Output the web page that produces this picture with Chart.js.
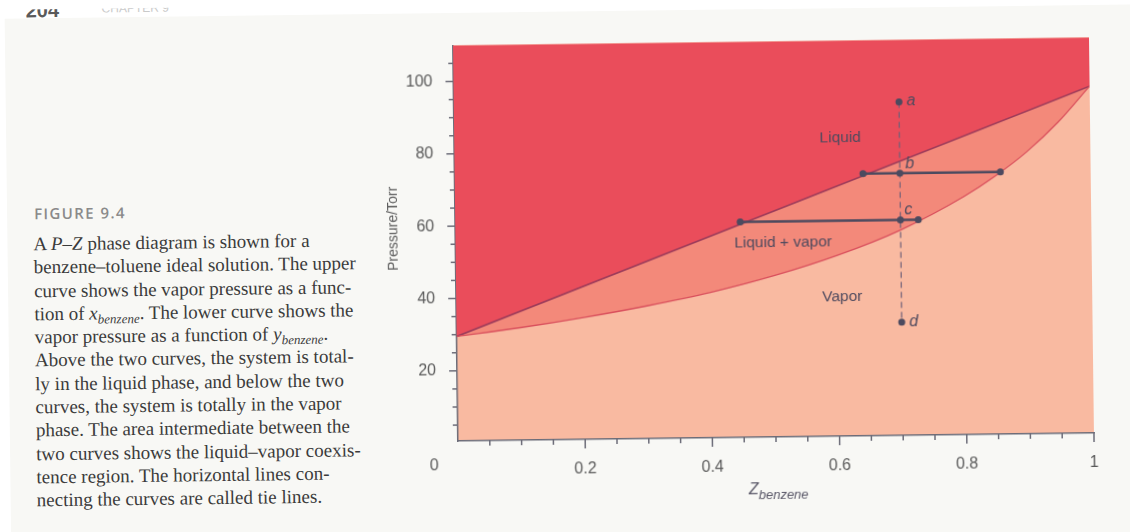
<!DOCTYPE html>
<html>
<head>
<meta charset="utf-8">
<script src="https://cdn.jsdelivr.net/npm/chart.js@4.4.1/dist/chart.umd.min.js"></script>
<style>
  html, body { margin: 0; padding: 0; width: 1130px; height: 532px; overflow: hidden; background: #ffffff; }
  #page { position: absolute; left: 0; top: 0; width: 1130px; height: 532px;
          transform: rotate(-0.72deg); transform-origin: 458px 441px; }
  #sheet { position: absolute; left: 10px; top: 13px; width: 1160px; height: 560px; background: #f8f8f5; }
  #runhead { position: absolute; left: 31px; top: 4px; width: 200px; height: 9px; overflow: hidden; }
  #runhead span { position: absolute; font-family: "Liberation Sans", Arial, sans-serif; white-space: nowrap; }
  #figlabel { position: absolute; left: 37px; top: 197px; font-family: "Open Sans", "Liberation Sans", sans-serif;
              font-weight: 600; font-size: 15px; letter-spacing: 1.4px; color: #8a8a8a; line-height: 22px; white-space: nowrap; }
  #para { position: absolute; left: 36px; top: 227px; font-family: "Liberation Serif", "Times New Roman", serif;
          font-size: 19px; line-height: 23.3px; color: #3b3b3b; white-space: nowrap; }
  #para sub { font-size: 13px; vertical-align: -4px; line-height: 0; }
  #chart { position: absolute; left: 0; top: 0; }
</style>
</head>
<body>
<div id="page">
  <div id="sheet"></div>
  <div id="runhead">
    <span style="left:0; top:-9px; font-size:20px; line-height:20px; font-weight:bold; color:#5a5a5a;">204</span>
    <span style="left:76px; top:-6px; font-size:12px; line-height:12px; color:#cacaca;">CHAPTER 9</span>
  </div>
  <div id="figlabel">FIGURE 9.4</div>
  <div id="para">
    A <i>P–Z</i> phase diagram is shown for a<br>
    benzene–toluene ideal solution. The upper<br>
    curve shows the vapor pressure as a func-<br>
    tion of <i>x<sub>benzene</sub></i>. The lower curve shows the<br>
    vapor pressure as a function of <i>y<sub>benzene</sub></i>.<br>
    Above the two curves, the system is total-<br>
    ly in the liquid phase, and below the two<br>
    curves, the system is totally in the vapor<br>
    phase. The area intermediate between the<br>
    two curves shows the liquid–vapor coexis-<br>
    tence region. The horizontal lines con-<br>
    necting the curves are called tie lines.
  </div>
  <canvas id="chart" width="1130" height="532"></canvas>
</div>

<script>
// Liquid curve: total pressure vs. benzene mole fraction in the liquid (straight line)
const zLiquidus = [0, 1];
const pLiquidus = [29.5, 96.5];

// Vapor curve: total pressure vs. benzene mole fraction in the vapor
const zVapor = [0, 0.1, 0.2, 0.3, 0.4, 0.5, 0.6, 0.7, 0.8, 0.85, 0.9, 0.95, 1];
const pVapor = [29.5, 31.7, 34.3, 37.3, 40.8, 45.2, 50.6, 57.4, 66.4, 72.0, 78.6, 86.7, 96.5];

// Tie lines
const tieUpperZ = [0.642, 0.858];
const tieUpperP = [73.1, 73.1];
const tieLowerZ = [0.448, 0.728];
const tieLowerP = [60.2, 60.2];

// Constant-composition path from a down to d
const pathZ = [0.70, 0.70];
const pathP = [92.8, 31.9];

// Labelled states along the path
const stateNames = ['a', 'b', 'c', 'd'];
const stateZ = [0.70, 0.70, 0.70, 0.70];
const stateP = [92.8, 73.1, 60.2, 31.9];

// Region names and where they sit in (Z, P)
const regionNames = ['Liquid', 'Liquid + vapor', 'Vapor'];
const regionZ = [0.607, 0.515, 0.607];
const regionP = [83.0, 54.4, 39.0];

// Axis ticks
const xTickValues = [0.05, 0.1, 0.15, 0.2, 0.25, 0.3, 0.35, 0.4, 0.45, 0.5, 0.55, 0.6, 0.65, 0.7, 0.75, 0.8, 0.85, 0.9, 0.95, 1];
const xMajorValues = [0.2, 0.4, 0.6, 0.8, 1];
const xMajorLabels = ['0.2', '0.4', '0.6', '0.8', '1'];
const yTickValues = [5, 10, 15, 20, 25, 30, 35, 40, 45, 50, 55, 60, 65, 70, 75, 80, 85, 90, 95, 100, 105];
const yMajorValues = [20, 40, 60, 80, 100];
const yMajorLabels = ['20', '40', '60', '80', '100'];

const COLORS = {
  liquid: '#ea4d5b',
  twoPhase: '#f3897a',
  vapor: '#f9baa1',
  liquidLine: '#9c3b5a',
  vaporLine: '#d94f5c',
  tie: '#4c4a5f',
  path: '#6e6078',
  text: '#4f4a5e',
  axis: '#6c6c78',
  tickText: '#5a5a5a'
};
const SANS = '"Liberation Sans", Arial, sans-serif';

const zip = (xs, ys) => xs.map((x, i) => ({ x, y: ys[i] }));
const findMajor = (list, v) => list.findIndex(m => Math.abs(m - v) < 1e-6);

// Fill the plot area with the vapor-region colour
const areaBackground = {
  id: 'areaBackground',
  beforeDraw(chart) {
    const { ctx, chartArea: a } = chart;
    ctx.save();
    ctx.fillStyle = COLORS.vapor;
    ctx.fillRect(a.left, a.top, a.right - a.left, a.bottom - a.top);
    ctx.restore();
  }
};

// Outward tick marks: long at labelled values, short in between
const tickMarks = {
  id: 'tickMarks',
  afterDraw(chart) {
    const { ctx } = chart;
    const xs = chart.scales.x, ys = chart.scales.y;
    ctx.save();
    ctx.strokeStyle = COLORS.axis;
    ctx.lineWidth = 1.5;
    xs.ticks.forEach(t => {
      const px = xs.getPixelForValue(t.value);
      const len = findMajor(xMajorValues, t.value) >= 0 ? 9 : 5;
      ctx.beginPath(); ctx.moveTo(px, xs.top); ctx.lineTo(px, xs.top + len); ctx.stroke();
    });
    ys.ticks.forEach(t => {
      const py = ys.getPixelForValue(t.value);
      const len = findMajor(yMajorValues, t.value) >= 0 ? 8 : 5;
      ctx.beginPath(); ctx.moveTo(ys.right, py); ctx.lineTo(ys.right - len, py); ctx.stroke();
    });
    ctx.restore();
  }
};

// Region names, state letters and axis titles
const annotations = {
  id: 'annotations',
  afterDatasetsDraw(chart) {
    const { ctx } = chart;
    const xs = chart.scales.x, ys = chart.scales.y;
    ctx.save();
    ctx.fillStyle = COLORS.text;
    ctx.textAlign = 'center';
    ctx.textBaseline = 'middle';
    ctx.font = '15.5px ' + SANS;
    regionNames.forEach((name, i) => {
      ctx.fillText(name, xs.getPixelForValue(regionZ[i]), ys.getPixelForValue(regionP[i]));
    });
    const letterOffsets = [[12, -1], [10, -9], [8, -10], [12, 0]];
    ctx.font = 'italic 16px ' + SANS;
    stateNames.forEach((name, i) => {
      ctx.fillText(name,
        xs.getPixelForValue(stateZ[i]) + letterOffsets[i][0],
        ys.getPixelForValue(stateP[i]) + letterOffsets[i][1]);
    });
    ctx.restore();
  },
  afterDraw(chart) {
    const { ctx } = chart;
    const xs = chart.scales.x, ys = chart.scales.y;
    ctx.save();
    // shared origin label
    ctx.fillStyle = COLORS.tickText;
    ctx.font = '16px ' + SANS;
    ctx.textAlign = 'center';
    ctx.textBaseline = 'middle';
    ctx.fillText('0', xs.left - 24, xs.top + 25);
    // x title: Z with subscript "benzene"
    const cx = (xs.left + xs.right) / 2 + 2;
    const base = xs.top + 57;
    ctx.font = 'italic 16px ' + SANS;
    const wZ = ctx.measureText('Z').width;
    ctx.font = 'italic 13px ' + SANS;
    const wSub = ctx.measureText('benzene').width;
    const x0 = cx - (wZ + wSub) / 2;
    ctx.textAlign = 'left';
    ctx.textBaseline = 'alphabetic';
    ctx.fillStyle = '#5a5868';
    ctx.font = 'italic 16px ' + SANS;
    ctx.fillText('Z', x0, base);
    ctx.font = 'italic 13px ' + SANS;
    ctx.fillText('benzene', x0 + wZ, base + 5);
    // y title
    ctx.translate(ys.right - 62, ys.getPixelForValue(59.5));
    ctx.rotate(-Math.PI / 2);
    ctx.textAlign = 'center';
    ctx.textBaseline = 'middle';
    ctx.fillStyle = COLORS.tickText;
    ctx.font = '14px ' + SANS;
    ctx.fillText('Pressure/Torr', 0, 0);
    ctx.restore();
  }
};

const lineDefaults = { pointRadius: 0, pointHoverRadius: 0, fill: false };

new Chart(document.getElementById('chart'), {
  type: 'line',
  data: {
    datasets: [
      { // labelled states
        data: zip(stateZ, stateP), showLine: false,
        pointRadius: 3.5, pointBackgroundColor: COLORS.tie, pointBorderWidth: 0, fill: false
      },
      { // upper tie line
        data: zip(tieUpperZ, tieUpperP), borderColor: COLORS.tie, borderWidth: 2.5,
        pointRadius: 3.5, pointBackgroundColor: COLORS.tie, pointBorderWidth: 0, fill: false
      },
      { // lower tie line
        data: zip(tieLowerZ, tieLowerP), borderColor: COLORS.tie, borderWidth: 2.5,
        pointRadius: 3.5, pointBackgroundColor: COLORS.tie, pointBorderWidth: 0, fill: false
      },
      { // constant composition path
        ...lineDefaults, data: zip(pathZ, pathP), borderColor: COLORS.path, borderWidth: 1.2, borderDash: [6, 4]
      },
      { // vapor curve, filling up to the liquid curve
        ...lineDefaults, data: zip(zVapor, pVapor), borderColor: COLORS.vaporLine, borderWidth: 1.3,
        cubicInterpolationMode: 'monotone', fill: '+1', backgroundColor: COLORS.twoPhase
      },
      { // liquid curve, filling to the top of the plot
        ...lineDefaults, data: zip(zLiquidus, pLiquidus), borderColor: COLORS.liquidLine, borderWidth: 1.6,
        fill: 'end', backgroundColor: COLORS.liquid
      }
    ]
  },
  options: {
    responsive: false,
    animation: false,
    devicePixelRatio: 1,
    layout: { padding: { left: 0, right: 36, top: 45.3, bottom: 0 } },
    plugins: {
      legend: { display: false },
      tooltip: { enabled: false },
      filler: { drawTime: 'beforeDatasetsDraw' }
    },
    scales: {
      x: {
        type: 'linear', min: 0, max: 1,
        afterBuildTicks: s => { s.ticks = xTickValues.map(v => ({ value: v })); },
        afterFit: s => { s.height = 91; },
        grid: { display: false, drawTicks: false },
        border: { display: true, color: COLORS.axis, width: 1.5 },
        ticks: {
          autoSkip: false, maxRotation: 0, padding: 20,
          color: COLORS.tickText, font: { family: SANS, size: 16 },
          callback: v => { const i = findMajor(xMajorValues, v); return i >= 0 ? xMajorLabels[i] : ''; }
        }
      },
      y: {
        type: 'linear', min: 0.6, max: 110,
        afterBuildTicks: s => { s.ticks = yTickValues.map(v => ({ value: v })); },
        afterFit: s => { s.width = 458; },
        grid: { display: false, drawTicks: false },
        border: { display: true, color: COLORS.axis, width: 1.5 },
        ticks: {
          autoSkip: false, padding: 21,
          color: COLORS.tickText, font: { family: SANS, size: 16 },
          callback: v => { const i = findMajor(yMajorValues, v); return i >= 0 ? yMajorLabels[i] : ''; }
        }
      }
    }
  },
  plugins: [areaBackground, tickMarks, annotations]
});
</script>
</body>
</html>
